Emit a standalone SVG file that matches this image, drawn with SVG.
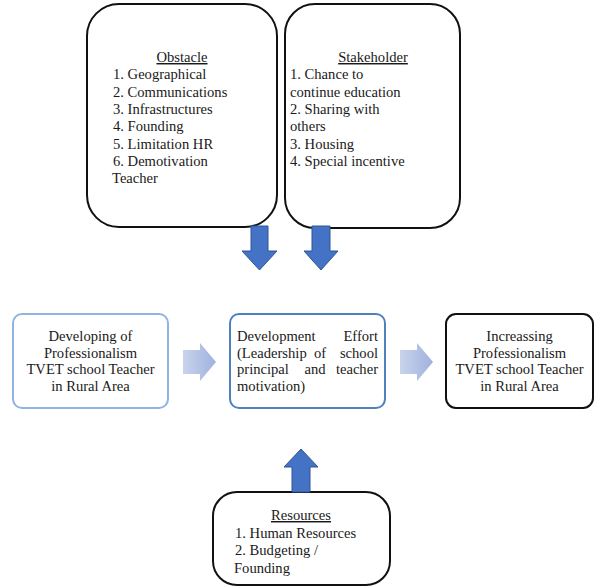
<svg xmlns="http://www.w3.org/2000/svg" width="603" height="587" viewBox="0 0 603 587">
<defs>
<linearGradient id="chev" x1="0" y1="0" x2="1" y2="0">
<stop offset="0" stop-color="#c9d3ec"/>
<stop offset="1" stop-color="#9fb1de"/>
</linearGradient>
<style>
text{font-family:"Liberation Serif","Times New Roman",serif;font-size:14.6px;fill:#1a1a1a}
.box{fill:#fff;stroke:#111;stroke-width:2}
.c{text-anchor:middle}
.e{text-anchor:end}
.u{text-decoration:underline}
.blk{fill:#4472c4;stroke:#2f5597;stroke-width:1}
.chev{fill:url(#chev)}
</style>
</defs>
<rect width="603" height="587" fill="#fff"/>

<g id="obstacle">
<rect class="box" x="87" y="4" width="190" height="223" rx="32"/>
<text x="182" y="62" class="c u">Obstacle</text>
<text x="113" y="79.3">1. Geographical</text>
<text x="113" y="96.6">2. Communications</text>
<text x="113" y="113.9">3. Infrastructures</text>
<text x="113" y="131.2">4. Founding</text>
<text x="113" y="148.5">5. Limitation HR</text>
<text x="113" y="165.8">6. Demotivation</text>
<text x="112" y="183">Teacher</text>
</g>

<g id="stakeholder">
<rect class="box" x="285" y="4" width="175" height="224" rx="30"/>
<text x="373" y="62" class="c u">Stakeholder</text>
<text x="290" y="79.3">1. Chance to</text>
<text x="290" y="96.6">continue education</text>
<text x="290" y="113.9">2. Sharing with</text>
<text x="290" y="131.2">others</text>
<text x="290" y="148.5">3. Housing</text>
<text x="290" y="165.8">4. Special incentive</text>
</g>

<g id="developing">
<rect x="13" y="314" width="155" height="94" rx="9" fill="#fff" stroke="#8eb4e3" stroke-width="2"/>
<text x="90.5" y="341" class="c">Developing of</text>
<text x="90.5" y="357.7" class="c">Professionalism</text>
<text x="90.5" y="374.3" class="c">TVET school Teacher</text>
<text x="90.5" y="391" class="c">in Rural Area</text>
</g>

<g id="effort">
<rect x="230" y="314" width="155" height="94" rx="9" fill="#fff" stroke="#4f81bd" stroke-width="2"/>
<text x="237" y="341">Development</text>
<text x="378" y="341" class="e">Effort</text>
<text x="237" y="357.7">(Leadership</text>
<text x="320" y="357.7" class="c">of</text>
<text x="378" y="357.7" class="e">school</text>
<text x="237" y="374.3">principal</text>
<text x="315" y="374.3" class="c">and</text>
<text x="378" y="374.3" class="e">teacher</text>
<text x="237" y="391">motivation)</text>
</g>

<g id="increasing">
<rect class="box" x="446" y="314" width="147" height="94" rx="10"/>
<text x="519.5" y="341" class="c">Increassing</text>
<text x="519.5" y="357.7" class="c">Professionalism</text>
<text x="519.5" y="374.3" class="c">TVET school Teacher</text>
<text x="519.5" y="391" class="c">in Rural Area</text>
</g>

<g id="resources">
<rect class="box" x="213" y="492" width="177" height="93" rx="24"/>
<text x="301" y="520" class="c u">Resources</text>
<text x="235" y="537.5">1. Human Resources</text>
<text x="235" y="555">2. Budgeting /</text>
<text x="234" y="572.5">Founding</text>
</g>

<g id="connectors">
<path class="blk" d="M251,226 H268 V251 H277 L259.5,270 L242,251 H251 Z"/>
<path class="blk" d="M312,226 H330 V251 H338 L321,270 L304,251 H312 Z"/>
<path class="blk" d="M301,449 L318,467 H310 V492 H292 V467 H284 Z"/>
<path class="chev" d="M183,350 H200 V343 L216,362 L200,381 V374 H183 Z"/>
<path class="chev" d="M400,350 H417 V343 L433,362 L417,381 V374 H400 Z"/>
</g>
</svg>
